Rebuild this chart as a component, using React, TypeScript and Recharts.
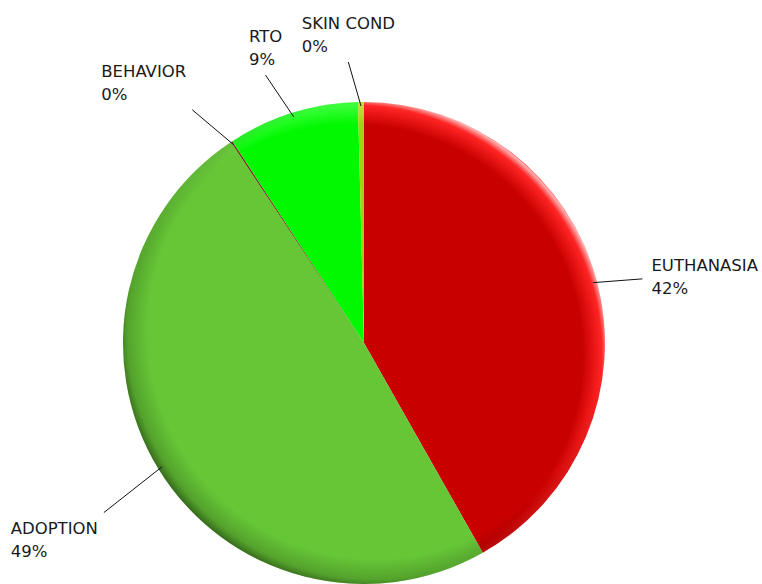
import { PieChart, Pie, Cell } from 'recharts';

const categories = ['EUTHANASIA', 'ADOPTION', 'BEHAVIOR', 'RTO', 'SKIN COND'];
const shares = [41.8, 48.9, 0.1, 8.8, 0.4];
const sliceColors = ['#C80000', '#66C636', '#7A1A10', '#00F800', '#A6D012'];
const rimColors = ['#FF2424', '#74D444', '#9A2A20', '#3CFF3C', '#C0E040'];

const data = categories.map((name, i) => ({ name, value: shares[i] }));

const W = 762;
const H = 584;
const CX = 364;
const CY = 343;
const R = 241;
const RAD = Math.PI / 180;
const FONT = '16.5px "DejaVu Sans"';

let ctx: CanvasRenderingContext2D | null = null;
const textWidth = (s: string) => {
  if (!ctx) ctx = document.createElement('canvas').getContext('2d');
  if (!ctx) return s.length * 10;
  ctx.font = FONT;
  return ctx.measureText(s).width;
};

// excel-ish placement: the box goes beside a point out past the rim,
// and the leader runs to a corner / edge middle of that box
const renderLabel = (props: any) => {
  const { cx, cy, midAngle, outerRadius, index, percent } = props;
  const cos = Math.cos(-midAngle * RAD);
  const sin = Math.sin(-midAngle * RAD);
  const up = -sin;
  const x0 = cx + (outerRadius - 4) * cos;
  const y0 = cy + (outerRadius - 4) * sin;
  const px = cx - 4 + (outerRadius + 50) * cos;
  const py = cy + 7 + (outerRadius + 50) * sin;
  const name = categories[index];
  const pct = `${Math.round(percent * 100)}%`;
  const w = Math.max(textWidth(name), textWidth(pct));

  let left = px - 8 - w / 2;
  if (cos > 0.5) left = px + 10;
  else if (cos < -0.5) left = px - 14 - w;

  let base = py - 4.5;
  if (up > 0.4) base = py - 30;
  else if (up < -0.4) base = py + 31.5;

  const right = left + w;
  const top = base - 12;
  const bottom = base + 23;
  let ex = (left + right) / 2;
  if (cos > 0.5) ex = left - 9;
  else if (cos < -0.5) ex = right + 6;
  let ey = (top + bottom) / 2 + 2;
  if (up > 0.4) ey = bottom + 10;
  else if (up < -0.4) ey = top - 9;

  return (
    <g key={`lbl-${index}`}>
      <line x1={x0} y1={y0} x2={ex} y2={ey} stroke="#111" strokeWidth={1} />
      <text x={left} y={base} fill="#1a1a1a" style={{ font: FONT }}>
        {name}
      </text>
      <text x={left} y={base + 23} fill="#1a1a1a" style={{ font: FONT }}>
        {pct}
      </text>
    </g>
  );
};

const App = () => {
  return (
    <div style={{ position: 'absolute', left: 0, top: 0, width: W, height: H, background: '#fff' }}>
      <PieChart width={W} height={H} margin={{ top: 0, right: 0, bottom: 0, left: 0 }}>
        <defs>
          {sliceColors.map((c, i) => (
            <radialGradient
              key={c}
              id={`base-${i}`}
              gradientUnits="userSpaceOnUse"
              cx={CX - 12}
              cy={CY + 12}
              r={R + 18}
            >
              <stop offset="0" stopColor={c} />
              <stop offset="0.89" stopColor={c} />
              <stop offset="0.965" stopColor={rimColors[i]} />
              <stop offset="0.99" stopColor={i === 0 ? '#FFB0B0' : rimColors[i]} />
              <stop offset="1" stopColor={rimColors[i]} />
            </radialGradient>
          ))}
          <radialGradient id="shade" gradientUnits="userSpaceOnUse" cx={CX + 12} cy={CY - 12} r={R + 18}>
            <stop offset="0" stopColor="#000" stopOpacity={0} />
            <stop offset="0.88" stopColor="#000" stopOpacity={0} />
            <stop offset="0.96" stopColor="#000" stopOpacity={0.18} />
            <stop offset="1" stopColor="#000" stopOpacity={0.5} />
          </radialGradient>
        </defs>
        <Pie
          data={data}
          dataKey="value"
          nameKey="name"
          cx={CX}
          cy={CY}
          outerRadius={R}
          startAngle={90}
          endAngle={-270}
          stroke="none"
          isAnimationActive={false}
        >
          {data.map((d, i) => (
            <Cell key={d.name} fill={`url(#base-${i})`} />
          ))}
        </Pie>
        <Pie
          data={data}
          dataKey="value"
          nameKey="name"
          cx={CX}
          cy={CY}
          outerRadius={R}
          startAngle={90}
          endAngle={-270}
          stroke="none"
          fill="url(#shade)"
          label={renderLabel}
          labelLine={false}
          isAnimationActive={false}
        />
      </PieChart>
    </div>
  );
};

export default App;
